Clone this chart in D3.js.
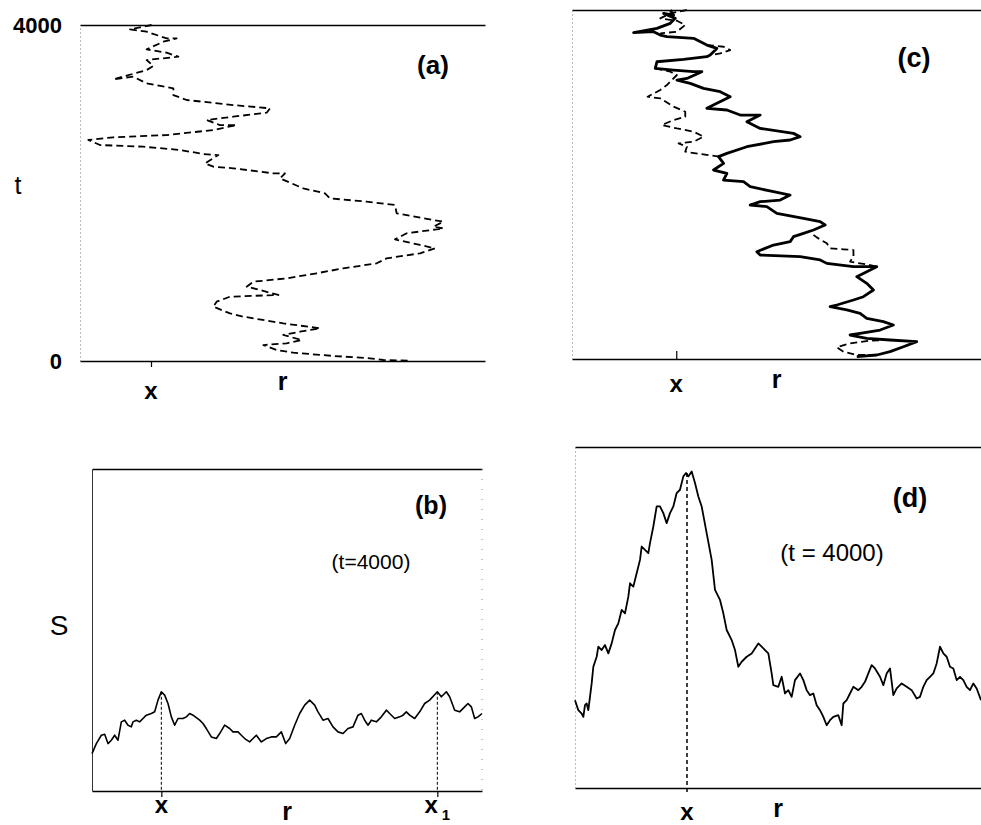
<!DOCTYPE html>
<html>
<head>
<meta charset="utf-8">
<script src="https://cdn.jsdelivr.net/npm/d3@7"></script>
<style>
body { margin: 0; background: #fff; }
text { font-family: "Liberation Sans", Arial, Helvetica, sans-serif; fill: #000; }
</style>
</head>
<body>
<svg id="fig" width="981" height="825"></svg>
<script>
// ---- data (r in arbitrary units, t in steps, S arbitrary) ----

// (a) single walker trajectory, [r, t]
var aPath = [[21.5,4000],[15,3948],[20,3920],[26,3841],[29,3841],[25,3801],[20,3710],[26,3670],[29.5,3623],
  [20,3583],[22,3512],[20,3464],[10,3353],[16,3385],[20,3305],[28,3246],[28,3166],[32,3107],[46,3047],
  [57,3008],[56,2956],[46,2909],[38,2869],[42,2809],[47,2809],[40,2750],[26,2690],[10,2663],[2.5,2631],
  [6,2571],[19,2551],[30,2512],[37,2464],[41.5,2452],[37.5,2353],[40,2313],[46,2294],[58,2234],[61.5,2234],
  [60,2174],[67,2055],[73.5,1996],[75,1936],[86,1897],[94.5,1857],[95,1758],[106,1678],[109,1659],
  [106,1599],[109,1579],[98,1520],[94.5,1448],[102,1381],[106.5,1341],[102,1282],[92,1222],[89,1163],
  [79,1103],[71,1044],[62,984],[52,944],[50,885],[54,845],[59.5,786],[45,766],[41,706],[40,647],
  [45,567],[49,528],[61,448],[72,389],[66,349],[61,310],[66.5,250],[62,210],[55,190],[59,131],
  [64,99],[76,60],[87,32],[91,12],[99,4]];
var aTicks = [21.3];
var aTickLabels = ["x"];
var aYTicks = [0, 4000];

// (c) two trajectories: solid walker and dashed walker (dashed drawn where it leaves the solid one)
var cSolid = [[29.5,4000],[30.5,3942],[27.5,3961],[31,3904],[29.5,3847],[25.5,3789],[18.5,3740],[24.5,3751],
  [26.5,3713],[28.5,3694],[36.5,3675],[40.5,3598],[43.5,3560],[41.5,3484],[40.5,3465],[33.5,3434],
  [25.5,3407],[25,3331],[30.5,3312],[36.5,3293],[39,3293],[34.5,3216],[31.5,3197],[35.5,3159],[39.5,3102],
  [44.5,3064],[47.5,3006],[43.5,2930],[40.5,2873],[46.5,2854],[50.5,2796],[56.5,2796],[52.5,2720],
  [56.5,2643],[66.5,2586],[68.5,2548],[65.5,2510],[60.5,2491],[52.5,2433],[46.5,2357],[44,2319],
  [45.5,2242],[42.5,2166],[46.5,2128],[45.5,2051],[51.5,2032],[53.5,1975],[60.5,1918],[65.5,1879],
  [62.5,1822],[56.5,1803],[53.5,1765],[58.5,1746],[61.5,1669],[69.5,1612],[74.5,1574],[76,1536],
  [72.5,1478],[69.5,1440],[66.5,1402],[65.5,1345],[60.5,1306],[55.5,1230],[56.5,1192],[68.5,1173],
  [74.5,1135],[76.5,1096],[84.5,1058],[91.5,1058],[88.5,1001],[85.5,944],[88.5,867],[90.5,791],
  [87.5,714],[84.5,676],[79.5,619],[77.5,600],[82.5,562],[86.5,523],[88.5,466],[93.5,428],[96.5,390],
  [92.5,332],[86.5,294],[83.5,275],[88.5,237],[95.5,218],[103.5,199],[99.5,141],[95.5,84],[91.5,46],[85.5,27]];
var cDashTop = [[34.5,4000],[29.5,3961],[26.5,3904],[31.5,3877],[34,3828],[31.5,3751],[26.5,3732]];
var cDashLoop = [[40.5,3598],[45.5,3579],[47.5,3541],[44.5,3503],[42,3484]];
var cDashLeft = [[25,3331],[29.5,3293],[31.5,3255],[28.5,3140],[26.5,3083],[22.7,3006],[26.5,2987],
  [30.5,2892],[34,2834],[34,2777],[30.5,2739],[27,2682],[31.5,2643],[36.5,2605],[39.5,2548],[36.5,2491],
  [32,2472],[34.5,2433],[34,2376],[38.5,2349],[44.5,2319]];
var cDashMid = [[72.5,1421],[73.5,1394],[76.5,1326],[77.5,1268],[81.5,1257],[84.5,1249],[84.5,1173],
  [83.5,1115],[89.5,1077],[91.5,1058]];
var cDashBottom = [[95.5,218],[89.5,210],[83.5,180],[79.5,134],[81.5,84],[85.5,46],[91.5,46]];
var cTicks = [31.3];
var cTickLabels = ["x"];

// (b) profile S(r) at t=4000, [r, S]
var bCurve = [[0,11.2],[1.3,14.2],[2.8,16.7],[3.8,17],[4.8,14.2],[5.8,15.2],[6.8,16.7],[7.8,15.2],[8.8,20.7],
  [9.8,21.2],[10.8,19.7],[11.8,19.2],[12.3,20.7],[13.3,21.2],[14.3,20.7],[15.3,21.7],[16.3,22.7],[17.8,23.2],
  [18.8,23.7],[19.8,27.2],[20.8,29.7],[21.8,28.7],[22.8,26.2],[23.8,22.2],[24.8,19.7],[25.8,21.7],[27.3,21.7],
  [28.3,22.2],[29.3,23.2],[30.3,22.7],[32.3,21.2],[33.3,20.2],[34.3,18.7],[35.8,16.2],[37.3,15.7],[38.3,17.2],
  [39.8,19.7],[41.3,18.7],[42.3,17.7],[43.8,17.7],[44.8,16.7],[45.8,15.7],[47.3,14.7],[48.3,15.7],[49.3,16.7],
  [50.8,14.7],[52.3,15.7],[53.8,16.2],[55.3,16.2],[56.8,17.7],[58.1,14.2],[59.3,15.7],[60.8,19.7],[62.3,23.2],
  [63.8,25.7],[65.3,27.2],[66.8,25.7],[67.8,23.7],[69.3,21.2],[70.8,21.7],[72.3,19.2],[73.8,17.7],[75.3,17.2],
  [76.8,18.7],[78.3,19.2],[79.8,22.7],[80.8,23.2],[81.8,21.2],[82.8,19.7],[83.8,21.2],[85.3,20.7],[86.8,22.2],
  [88.3,24.2],[89.3,23.2],[90.8,21.7],[92.3,22.2],[93.3,22.7],[94.3,23.7],[95.3,22.7],[96.8,21.7],[98.3,23.7],
  [99.8,26.2],[101.3,27.2],[103.6,29.7],[104.8,28.2],[106.3,29.7],[107.3,28.2],[108.8,24.2],[110.3,23.7],
  [111.8,25.2],[112.8,26.2],[113.8,25.2],[114.8,21.7],[115.8,22.2],[117,23.2]];
var bTicks = [20.8, 103.6];
var bTickLabels = ["x", "x1"];

// (d) profile S(r) at t=4000, [r, S]
var dCurve = [[0,26.3],[1,23.3],[2,22.3],[2.5,21.3],[3,24.8],[3.5,25.3],[4,23.3],[5,31.3],[5.5,36.3],[6.5,39.3],
  [7,42.3],[8,41.3],[9,42.8],[10,40.3],[11,43.3],[12,47.3],[13,49.3],[14,53.3],[15,52.3],[16,57.3],[16.5,61.3],
  [17.5,60.3],[18.5,64.3],[19.5,68.3],[20,72.3],[21,71.3],[22,70.3],[22.5,73.3],[23.5,78.3],[24.5,84.3],
  [25.5,84.3],[26.5,82.3],[27.5,79.3],[28.5,82.3],[29.5,84.3],[30.5,88.3],[31.5,89.3],[32.5,93.3],[33.3,94.3],
  [34,93.3],[35,94.8],[36,91.3],[37,87.3],[38,84.3],[39.5,76.3],[41,68.3],[42,59.3],[43.5,56.3],[44.5,52.3],
  [45.5,47.3],[47,44.3],[48,41.3],[49,36.3],[50,37.8],[51.5,39.3],[53,40.3],[54,41.8],[55,43.3],[56,42.3],
  [57,41.3],[58,40.3],[59,34.3],[59.5,30.8],[61,30.3],[62,33.3],[63,28.3],[64,29.3],[65,27.3],[66,32.3],
  [67.5,34.3],[68.5,32.3],[69.5,29.3],[70.5,27.8],[71.5,28.3],[72.5,24.8],[73.5,23.3],[74.5,21.3],[75.5,18.8],
  [76.5,20.3],[77.5,21.3],[79,21.8],[80,18.8],[80.5,25.3],[81.5,26.3],[82.5,28.3],[83.5,30.3],[85,29.3],
  [86,30.3],[87,31.8],[88,34.3],[89,36.8],[90,35.8],[91.5,33.3],[92.5,30.8],[93.5,34.3],[94.5,35.8],[95.5,27.8],
  [96.5,29.8],[98,31.3],[99.5,30.3],[101,29.3],[102.5,26.8],[103.5,27.3],[104.5,30.3],[105.5,32.3],[106.5,33.3],
  [107.5,34.3],[108.5,37.3],[109.5,42.3],[110.5,40.3],[111.5,39.3],[112.5,36.3],[113.5,35.8],[114.5,32.3],
  [115.5,33.3],[116.5,32.3],[117.5,30.3],[118.5,29.3],[119.5,31.3],[120.5,29.8],[121.8,26.3]];
var dTicks = [33.6];
var dTickLabels = ["x"];

// ---- drawing ----
var svg = d3.select("#fig");

function makePanel(box, xDom, yDom) {
  return {
    box: box,
    x: d3.scaleLinear().domain(xDom).range([box.left, box.right]),
    y: d3.scaleLinear().domain(yDom).range([box.bottom, box.top])
  };
}

var pa = makePanel({left: 80, right: 485, top: 25, bottom: 361}, [0, 121.5], [0, 4000]);
var pc = makePanel({left: 572, right: 981, top: 10, bottom: 359}, [0, 122.8], [0, 4000]);
var pb = makePanel({left: 92, right: 482, top: 469, bottom: 791}, [0, 117], [0, 96.4]);
var pd = makePanel({left: 575, right: 981, top: 447, bottom: 788}, [0, 121.8], [0, 102.1]);

// frame: solid top and bottom lines, faint dotted left (and optional right) side
function frame(p, opt) {
  var b = p.box;
  svg.append("g").attr("transform", "translate(0," + b.top + ")")
    .call(d3.axisTop(p.x).tickValues([]).tickSizeOuter(0))
    .select(".domain").attr("stroke", "#000").attr("stroke-width", 1.6);
  var bot = svg.append("g").attr("transform", "translate(0," + b.bottom + ")")
    .call(d3.axisBottom(p.x).tickValues(opt.ticks).tickSizeInner(opt.tickSize).tickSizeOuter(0).tickFormat(""));
  bot.select(".domain").attr("stroke", "#000").attr("stroke-width", 1.6);
  bot.selectAll(".tick line").attr("stroke", "#000").attr("stroke-width", 1.2);
  var left = svg.append("g").attr("transform", "translate(" + b.left + ",0)")
    .call(d3.axisLeft(p.y).tickValues(opt.yTicks || []).tickSize(0).tickPadding(18)
      .tickFormat(d3.format("d")));
  left.select(".domain").attr("stroke", opt.leftSolid ? "#333" : "#777")
    .attr("stroke-width", 1)
    .attr("stroke-dasharray", opt.leftSolid ? null : "1,3");
  left.selectAll(".tick text").style("font-size", "22px").style("font-weight", "bold")
    .style("font-family", "'Liberation Sans', Arial, sans-serif");
  if (opt.rightDotted) {
    svg.append("line").attr("x1", b.right).attr("x2", b.right).attr("y1", b.top).attr("y2", b.bottom)
      .attr("stroke", "#888").attr("stroke-dasharray", "1,9");
  }
  // tick labels below the axis and the axis title r
  opt.ticks.forEach(function(v, i) {
    var lab = opt.labels[i];
    var t = svg.append("text").attr("x", p.x(v)).attr("y", b.bottom + opt.labelDy)
      .attr("text-anchor", "middle").style("font-size", "24px").style("font-weight", "bold");
    t.text(lab.charAt(0));
    if (lab.length > 1) {
      t.append("tspan").attr("dx", 4).attr("dy", 7).style("font-size", "15px").text(lab.slice(1));
    }
  });
  svg.append("text").attr("x", (b.left + b.right) / 2).attr("y", b.bottom + 29)
    .attr("text-anchor", "middle").style("font-size", "25px").style("font-weight", "bold").text("r");
}

frame(pa, {ticks: aTicks, labels: aTickLabels, tickSize: 6, labelDy: 38, yTicks: aYTicks});
frame(pc, {ticks: cTicks, labels: cTickLabels, tickSize: -8, labelDy: 33});
frame(pb, {ticks: bTicks, labels: bTickLabels, tickSize: 6, labelDy: 22, leftSolid: true, rightDotted: true});
frame(pd, {ticks: dTicks, labels: dTickLabels, tickSize: 0, labelDy: 32});

function trace(p, data, width, dash) {
  var line = d3.line().x(function(d) { return p.x(d[0]); }).y(function(d) { return p.y(d[1]); });
  svg.append("path").datum(data).attr("d", line)
    .attr("fill", "none").attr("stroke", "#000").attr("stroke-width", width)
    .attr("stroke-linejoin", "round")
    .attr("stroke-dasharray", dash || null);
}

trace(pa, aPath, 1.8, "7,4");
[cDashTop, cDashLoop, cDashLeft, cDashMid, cDashBottom].forEach(function(seg) {
  trace(pc, seg, 1.8, "7,4");
});
trace(pc, cSolid, 2.8);
trace(pb, bCurve, 1.6);
trace(pd, dCurve, 1.8);

// dashed drop lines from the peaks to the r axis
function nearest(data, v) {
  return data.reduce(function(a, d) { return Math.abs(d[0] - v) < Math.abs(a[0] - v) ? d : a; });
}
bTicks.forEach(function(v) {
  var pk = nearest(bCurve, v);
  svg.append("line").attr("x1", pb.x(v)).attr("x2", pb.x(v))
    .attr("y1", pb.y(pk[1])).attr("y2", pb.box.bottom)
    .attr("stroke", "#000").attr("stroke-width", 1).attr("stroke-dasharray", "3,2");
});
dTicks.forEach(function(v) {
  var pk = nearest(dCurve, v);
  svg.append("line").attr("x1", pd.x(v)).attr("x2", pd.x(v))
    .attr("y1", pd.y(pk[1])).attr("y2", pd.box.bottom + 6)
    .attr("stroke", "#000").attr("stroke-width", 1.5).attr("stroke-dasharray", "4,3");
});

// panel letters and annotations
function label(x, y, txt, size, bold) {
  svg.append("text").attr("x", x).attr("y", y).attr("text-anchor", "middle")
    .style("font-size", size + "px").style("font-weight", bold ? "bold" : "normal").text(txt);
}
label(433, 74, "(a)", 26, true);
label(914, 67, "(c)", 27, true);
label(431, 514, "(b)", 25, true);
label(910, 507, "(d)", 27, true);
label(371, 569, "(t=4000)", 21, false);
label(832, 561, "(t = 4000)", 24, false);
label(18, 194, "t", 25, false);
label(59, 635, "S", 28, false);
</script>
</body>
</html>
